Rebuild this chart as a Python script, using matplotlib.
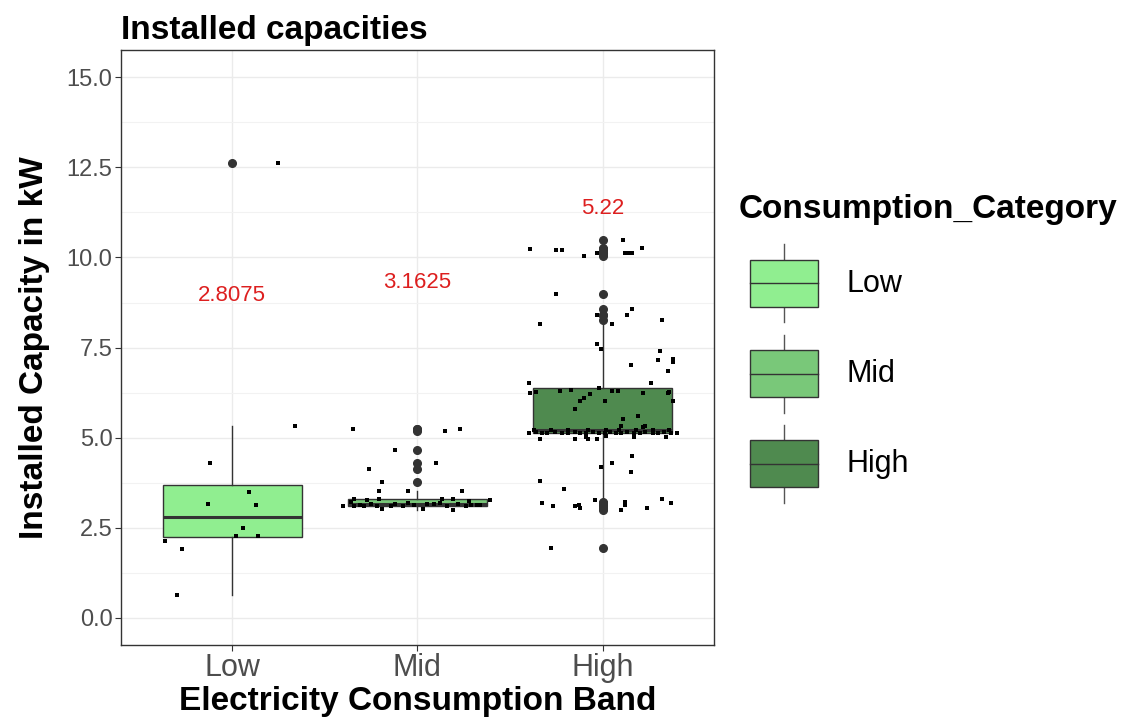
import numpy as np
import matplotlib
matplotlib.use("Agg")
import matplotlib.pyplot as plt
from matplotlib.patches import Patch, Rectangle
from matplotlib.lines import Line2D
from matplotlib.legend_handler import HandlerBase

plt.rcParams["font.family"] = ["Liberation Sans", "DejaVu Sans"]

categories = ["Low", "Mid", "High"]
fill_colors = ["#90EE90", "#79C879", "#4F8A4F"]

# installed capacity per site (kW) and the horizontal jitter
low_values = [0.64, 1.90, 2.14, 2.27, 2.27, 2.485, 3.13, 3.17, 3.50, 4.29, 5.32, 12.62]
low_jitter = [-0.30, -0.27, -0.36, 0.02, 0.14, 0.06, 0.13, -0.13, 0.09, -0.12, 0.34, 0.25]

mid_values = [3.00, 3.03, 3.03,
              3.10, 3.10, 3.10, 3.11, 3.11, 3.11, 3.11, 3.11,
              3.12, 3.13, 3.13, 3.14, 3.14, 3.15, 3.15, 3.16, 3.16,
              3.1625,
              3.18, 3.20, 3.22, 3.25, 3.27, 3.28, 3.30, 3.30, 3.30,
              3.30,
              3.51, 3.51, 3.51, 3.76, 4.12, 4.30, 4.65, 5.19, 5.23, 5.23]
mid_jitter = [0.19, -0.19, 0.03,
              -0.34, -0.29, 0.16, -0.40, -0.22, -0.14, 0.26, -0.08,
              0.29, -0.02, 0.32, 0.34, -0.31, -0.25, 0.22, 0.05, -0.12,
              0.09,
              -0.05, 0.12, -0.36, 0.28, -0.27, 0.39, -0.34, -0.21, 0.13,
              0.19,
              -0.21, -0.05, 0.24, -0.19, -0.26, 0.10, -0.12, 0.15, -0.35, 0.23]

high_values = [10.22, 10.20, 10.20, 10.04, 10.11, 10.47, 10.11, 10.11, 10.11, 10.27,
               8.98, 8.41, 8.57, 8.41, 8.14, 8.27, 8.14, 7.60, 7.45, 7.41,
               7.15, 7.17, 7.10, 7.02, 6.84, 6.52, 6.52,
               6.23, 6.26, 6.30, 6.32, 6.21, 6.38, 6.30, 6.30, 6.23, 6.23,
               6.26, 6.09, 6.02, 6.02, 6.02, 5.81, 5.52, 5.59, 5.32, 5.29, 5.33,
               5.22, 5.22, 5.22, 5.22, 5.22, 5.22, 5.22, 5.22, 5.22,
               5.13, 5.15, 5.13, 5.13, 5.15, 5.13, 5.13, 5.15, 5.13, 5.13,
               5.15, 5.13, 5.13, 5.15, 5.13, 5.13, 5.15, 5.13, 5.13, 5.15,
               5.13, 5.13, 5.15, 5.13, 5.13,
               4.96, 4.96, 5.02, 4.96, 4.96, 5.05, 5.02, 5.02, 4.49, 4.29,
               4.20, 4.06, 3.79, 3.59, 3.20, 3.10, 3.10, 3.14, 3.04, 3.26,
               3.23, 3.14, 3.00, 3.04, 3.30, 3.20, 1.94]
high_jitter = [-0.39, -0.25, -0.22, -0.10, -0.03, 0.11, 0.12, 0.14, 0.16, 0.21,
               -0.25, -0.03, 0.16, 0.13, -0.34, 0.32, 0.05, -0.03, -0.01, 0.31,
               0.30, 0.38, 0.38, 0.15, 0.35, -0.40, 0.26,
               -0.39, -0.36, -0.23, -0.17, -0.07, -0.02, 0.05, 0.08, 0.22, 0.35,
               0.36, -0.10, -0.12, 0.38, 0.01, -0.15, 0.11, 0.19, 0.10, 0.22, 0.23,
               -0.37, -0.28, -0.19, -0.08, 0.02, 0.09, 0.18, 0.27, 0.36,
               -0.40, -0.36, -0.33, -0.30, -0.26, -0.22, -0.19, -0.15, -0.12, -0.09,
               -0.05, -0.02, 0.01, 0.04, 0.07, 0.10, 0.13, 0.17, 0.20, 0.23,
               0.27, 0.30, 0.33, 0.37, 0.40,
               -0.34, -0.15, -0.09, -0.08, -0.03, 0.02, 0.17, 0.34, 0.16, 0.05,
               -0.01, 0.15, -0.34, -0.21, -0.33, -0.27, -0.15, -0.13, -0.12, -0.04,
               0.12, 0.12, 0.10, 0.24, 0.32, 0.37, -0.28]

EDGE = "#333333"


class BoxKeyHandler(HandlerBase):
    def create_artists(self, legend, orig_handle, xdescent, ydescent,
                       width, height, fontsize, trans):
        # leave a small indent on the left, like the ggplot key
        x0 = -xdescent + 0.14 * width
        w = width * 0.86
        y0 = -ydescent
        cx = x0 + w / 2
        lo = y0 + 0.2 * height
        hi = y0 + 0.8 * height
        rect = Rectangle((x0, lo), w, hi - lo, facecolor=orig_handle.get_facecolor(),
                         edgecolor=EDGE, lw=1.0, transform=trans)
        w1 = Line2D([cx, cx], [y0, lo], color="#555555", lw=1.0, transform=trans)
        w2 = Line2D([cx, cx], [hi, y0 + height], color="#555555", lw=1.0, transform=trans)
        med = Line2D([x0, x0 + w], [(lo + hi) / 2] * 2, color=EDGE, lw=1.0, transform=trans)
        return [w1, w2, rect, med]


def main():
    fig = plt.figure(figsize=(11.23, 7.22), dpi=100)
    ax = fig.add_axes([0.1077, 0.1066, 0.528, 0.824])

    groups = [low_values, mid_values, high_values]
    jitters = [low_jitter, mid_jitter, high_jitter]
    positions = np.arange(1, len(categories) + 1)

    bp = ax.boxplot(groups, positions=positions, widths=0.75, patch_artist=True,
                    whis=1.5, showcaps=False,
                    boxprops=dict(edgecolor=EDGE, linewidth=1.0),
                    whiskerprops=dict(color=EDGE, linewidth=1.0),
                    medianprops=dict(color=EDGE, linewidth=2.2),
                    flierprops=dict(marker="o", markersize=5.5, markerfacecolor=EDGE,
                                    markeredgecolor=EDGE, linestyle="none"),
                    zorder=2)
    for patch, col in zip(bp["boxes"], fill_colors):
        patch.set_facecolor(col)

    for pos, vals, jit in zip(positions, groups, jitters):
        ax.scatter(pos + np.array(jit), vals, s=5, color="black", marker="s",
                   linewidths=0, zorder=4)

    for pos, vals in zip(positions, groups):
        med = np.median(vals)
        ax.text(pos, med + 6.14, f"{med:g}", color="#DD1F1F", fontsize=16,
                ha="center", va="center", zorder=5)

    ax.set_xlim(0.4, 3.6)
    ax.set_ylim(-0.75, 15.75)
    ax.set_xticks(positions)
    ax.set_xticklabels(categories)
    ax.set_yticks([0, 2.5, 5, 7.5, 10, 12.5, 15])
    ax.set_yticklabels(["0.0", "2.5", "5.0", "7.5", "10.0", "12.5", "15.0"])
    ax.set_yticks([1.25, 3.75, 6.25, 8.75, 11.25, 13.75], minor=True)
    ax.tick_params(axis="y", which="minor", length=0)
    ax.tick_params(axis="x", labelsize=22, labelcolor="#4D4D4D", color=EDGE,
                   length=4, width=0.8, pad=2)
    ax.tick_params(axis="y", which="major", labelsize=17, labelcolor="#4D4D4D",
                   color=EDGE, length=4, width=0.8, pad=2)
    ax.grid(True, which="major", color="#EBEBEB", linewidth=1.0, zorder=0)
    ax.grid(True, which="minor", axis="y", color="#F2F2F2", linewidth=0.8, zorder=0)
    ax.set_axisbelow(True)
    for sp in ax.spines.values():
        sp.set_color(EDGE)
        sp.set_linewidth(1.0)

    ax.set_xlabel("Electricity Consumption Band", fontsize=24, fontweight="bold", labelpad=2)
    ax.set_ylabel("Installed Capacity in kW", fontsize=24, fontweight="bold", labelpad=12)
    ax.set_title("Installed capacities", loc="left", fontsize=24, fontweight="bold", pad=8)

    handles = [Patch(facecolor=c) for c in fill_colors]
    leg = fig.legend(handles, categories, loc="upper left", bbox_to_anchor=(0.658, 0.7315),
                     frameon=False, fontsize=22, title="Consumption_Category",
                     title_fontproperties={"weight": "bold", "size": 24},
                     alignment="left", borderpad=0, borderaxespad=0, handlelength=2.585,
                     handleheight=3.55, labelspacing=0.4, handletextpad=0.95,
                     handler_map={Patch: BoxKeyHandler()})
    # a bit more room between the legend title and the first key
    leg._legend_box.sep = 14

    fig.savefig("out.png", dpi=100)
    plt.close(fig)


if __name__ == "__main__":
    main()
